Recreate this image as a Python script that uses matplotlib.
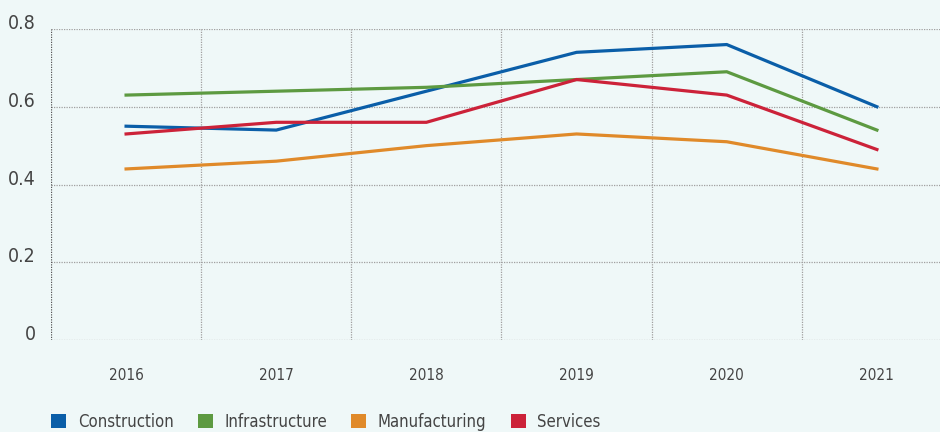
import numpy as np
import matplotlib.pyplot as plt
from matplotlib.patches import Patch

years = ["2016", "2017", "2018", "2019", "2020", "2021"]
construction = [0.55, 0.54, 0.64, 0.74, 0.76, 0.60]
infrastructure = [0.63, 0.64, 0.65, 0.67, 0.69, 0.54]
manufacturing = [0.44, 0.46, 0.50, 0.53, 0.51, 0.44]
services = [0.53, 0.56, 0.56, 0.67, 0.63, 0.49]

names = ["Construction", "Infrastructure", "Manufacturing", "Services"]
colors = ["#0a5ea8", "#5d9a41", "#e08a2a", "#cc2239"]
bg = "#eff8f8"

plt.rcParams['font.family'] = ['DejaVu Sans']
plt.rcParams['font.stretch'] = 'condensed'

fig = plt.figure(figsize=(9.4, 4.32), dpi=100, facecolor=bg)
ax = fig.add_axes([51/940, 1-340/432, 901/940, 311/432])
ax.set_facecolor(bg)

x = np.arange(len(years))
for vals, c in zip([construction, infrastructure, manufacturing, services], colors):
    ax.plot(x, vals, color=c, lw=2.3, solid_joinstyle='miter')

ax.set_xlim(-0.5, 5.5)
ax.set_ylim(0, 0.8)

# dotted grid
for yv in [0.2, 0.4, 0.6, 0.8, 0.0]:
    ax.axhline(yv, color="#a0a0a0", lw=0.9, ls=(0, (1, 1)), zorder=0)
for xv in np.arange(0.5, 5.5, 1):
    ax.axvline(xv, color="#a0a0a0", lw=0.9, ls=(0, (1, 1)), zorder=0)
ax.axvline(-0.5, color="#555555", lw=0.9, ls=(0, (1, 1)), zorder=0)
for s in ax.spines.values():
    s.set_visible(False)

ax.set_yticks([0, 0.2, 0.4, 0.6, 0.8])
ax.set_yticklabels(["0", "0.2", "0.4", "0.6", "0.8"], fontsize=14, color="#444444")
for t in ax.get_yticklabels():
    t.set_verticalalignment('baseline')
ax.set_xticks(x)
ax.set_xticklabels(years, fontsize=11, color="#444444")
ax.tick_params(axis='y', length=0, pad=11)
ax.tick_params(axis='x', length=0, pad=20)

handles = [Patch(facecolor=c, edgecolor='none') for c in colors]
fig.legend(handles, names, loc='lower left', bbox_to_anchor=(51/940, 1/432), ncol=4,
           frameon=False, fontsize=12, handlelength=0.9, handleheight=0.9,
           handletextpad=0.7, columnspacing=1.45, labelcolor="#444444",
           borderpad=0, borderaxespad=0)

fig.savefig("out.png", dpi=100, facecolor=bg)
